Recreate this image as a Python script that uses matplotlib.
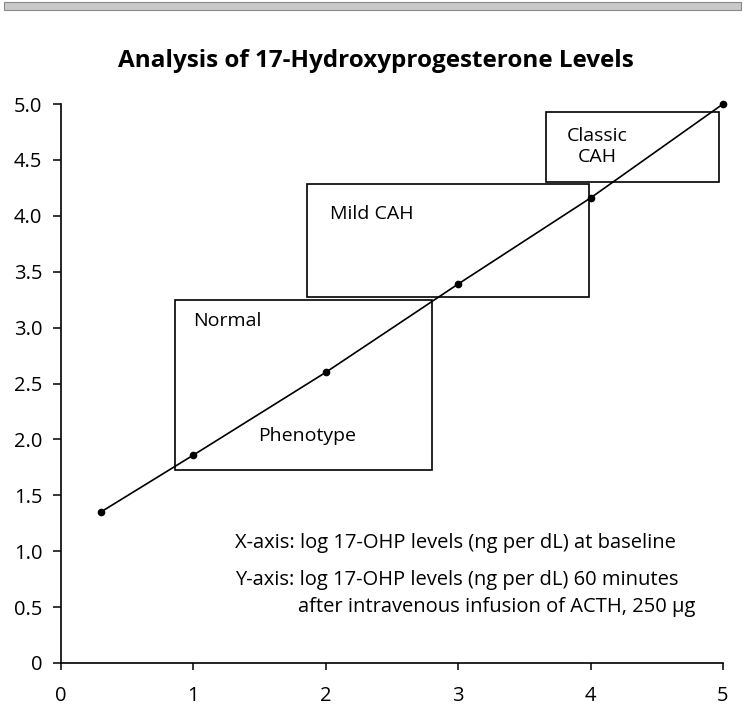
import numpy as np
import matplotlib.pyplot as plt
from matplotlib.patches import Rectangle

plt.rcParams['font.family'] = ['Open Sans', 'DejaVu Sans']

## data
x_vals = [0.3, 1.0, 2.0, 3.0, 4.0, 5.0]
y_vals = [1.35, 1.86, 2.60, 3.39, 4.16, 5.00]

# zone boxes: (x0, x1, y0, y1)
box_x0 = [0.86, 1.86, 3.66]
box_x1 = [2.80, 3.99, 4.97]
box_y0 = [1.73, 3.27, 4.30]
box_y1 = [3.245, 4.28, 4.93]

xticks = [0, 1, 2, 3, 4, 5]
yticks = [0, 0.5, 1.0, 1.5, 2.0, 2.5, 3.0, 3.5, 4.0, 4.5, 5.0]
ytick_labels = ['0', '0.5', '1.0', '1.5', '2.0', '2.5', '3.0', '3.5', '4.0', '4.5', '5.0']

title = 'Analysis of 17-Hydroxyprogesterone Levels'
note_x = 'X-axis: log 17-OHP levels (ng per dL) at baseline'
note_y1 = 'Y-axis: log 17-OHP levels (ng per dL) 60 minutes'
note_y2 = 'after intravenous infusion of ACTH, 250 \u03bcg'

W, H = 745, 728
fig = plt.figure(figsize=(W/100, H/100), dpi=100)
ax = fig.add_axes([61/W, 1-663/H, (723-61)/W, (663-104)/H])

# scanner strip at the very top
fig.patches.append(Rectangle((0.005, 1-10/H), 0.99, 8/H, transform=fig.transFigure,
                             facecolor='#c9c9c9', edgecolor='#8a8a8a', lw=0.8))

for i in range(len(box_x0)):
    ax.add_patch(Rectangle((box_x0[i], box_y0[i]), box_x1[i]-box_x0[i], box_y1[i]-box_y0[i],
                           fill=False, edgecolor='black', lw=1.2, zorder=2))

ax.plot(x_vals, y_vals, color='black', lw=1.2, marker='o', ms=4.5, zorder=3, clip_on=False)

fs = 14
ax.text(1.0, 3.06, 'Normal', fontsize=fs, ha='left', va='center')
ax.text(1.488, 2.03, 'Phenotype', fontsize=fs, ha='left', va='center')
ax.text(2.03, 4.02, 'Mild CAH', fontsize=fs, ha='left', va='center')
ax.text(4.05, 4.62, 'Classic\nCAH', fontsize=fs, ha='center', va='center',
        multialignment='center', linespacing=1.25)

ax.text(1.314, 1.026, note_x, fontsize=14.5, ha='left', va='baseline')
ax.text(1.314, 0.698, note_y1, fontsize=14.5, ha='left', va='baseline')
ax.text(1.79, 0.459, note_y2, fontsize=14.5, ha='left', va='baseline')

fig.text(118/W, 1-66.7/H, title, fontsize=17.5, fontweight='bold', ha='left', va='baseline')

ax.set_xlim(0, 5)
ax.set_ylim(0, 5)
ax.set_xticks(xticks)
ax.set_yticks(yticks)
ax.set_yticklabels(ytick_labels)
ax.spines['top'].set_visible(False)
ax.spines['right'].set_visible(False)
ax.spines['left'].set_linewidth(1.2)
ax.spines['bottom'].set_linewidth(1.2)
ax.tick_params(axis='x', direction='out', length=4.8, width=1.1, pad=12, labelsize=14.5)
ax.tick_params(axis='y', direction='out', length=5.5, width=1.1, pad=8, labelsize=14.5)

fig.savefig('out.png', dpi=100)
